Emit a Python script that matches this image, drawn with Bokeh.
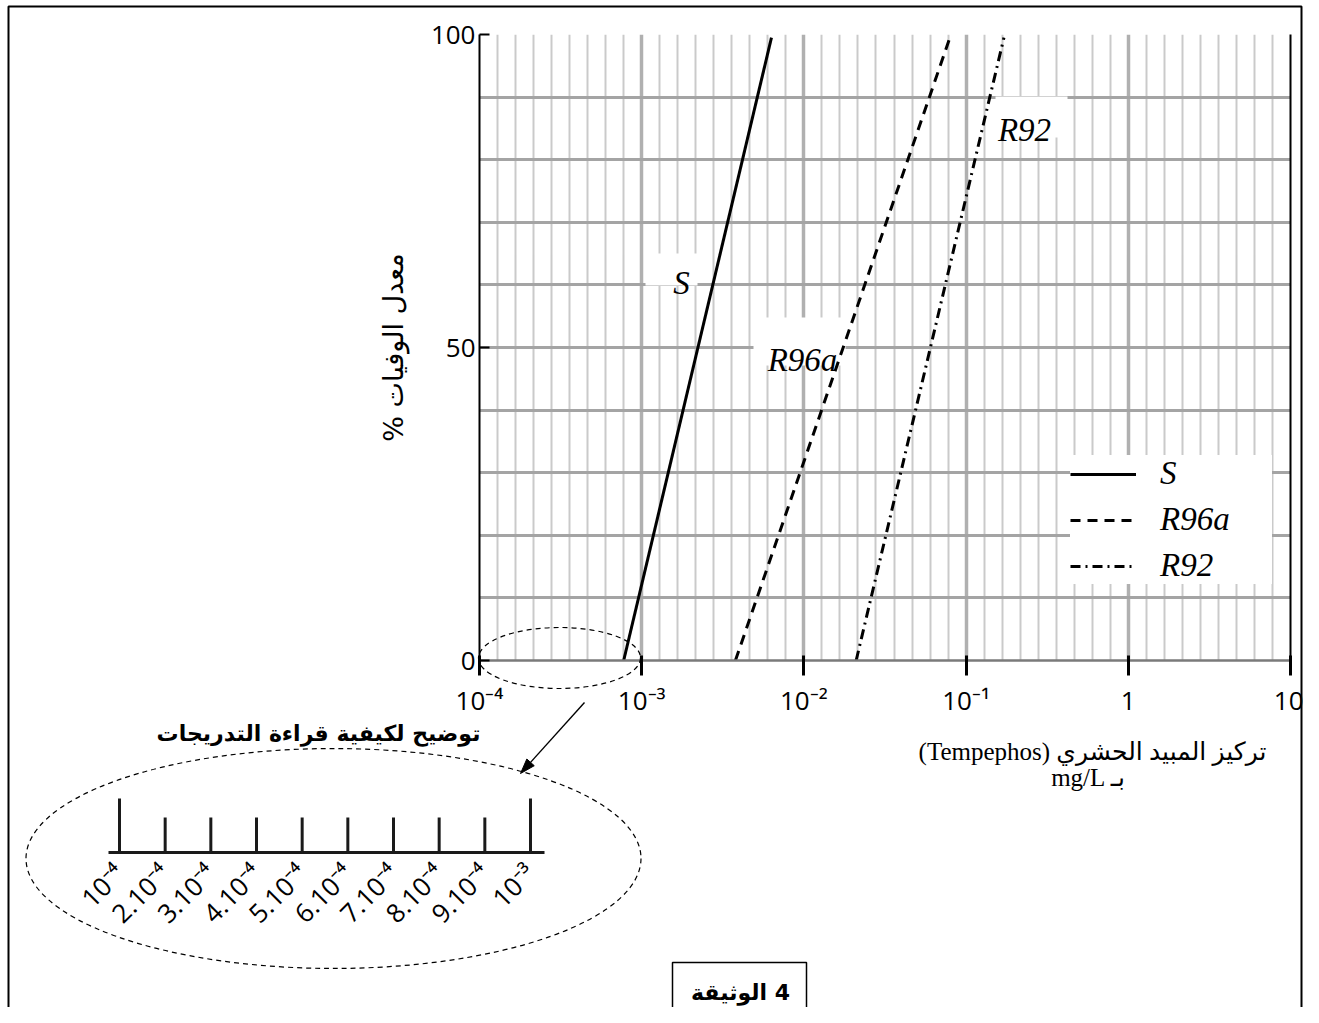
import math
from bokeh.plotting import figure
from bokeh.models import (Range1d, FixedTicker, LinearAxis, Label, Legend, LegendItem,
                          ColumnDataSource)
from bokeh.core.properties import value
from bokeh.embed import file_html
from bokeh.resources import INLINE

# ---------------- data ----------------
decade_exponents = [-4, -3, -2, -1, 0, 1]
decade_labels = ["10⁻⁴", "10⁻³", "10⁻²", "10⁻¹", "1", "10"]
mortality_ticks = [0, 50, 100]
mortality_grid = [0, 10, 20, 30, 40, 50, 60, 70, 80, 90, 100]

series_names = ["S", "R96a", "R92"]
conc_at_low = [9.0e-4, 6.2e-3, 3.9e-2]      # mg/L where mortality = 0 %
conc_at_high = [8.2e-3, 9.1e-2, 3.1e-1]     # mg/L where mortality ~ 100 %
mortality_low = [0, 0, 0]
mortality_high = [99.5, 99.5, 99.5]

inset_values = [1e-4, 2e-4, 3e-4, 4e-4, 5e-4, 6e-4, 7e-4, 8e-4, 9e-4, 1e-3]
inset_labels = ["10⁻⁴", "2.10⁻⁴", "3.10⁻⁴", "4.10⁻⁴", "5.10⁻⁴",
                "6.10⁻⁴", "7.10⁻⁴", "8.10⁻⁴", "9.10⁻⁴", "10⁻³"]

y_title = "% معدل الوفيات"
x_title_1 = "(Tempephos) تركيز المبيد الحشري"
x_title_2 = "mg/L بـ"
inset_title = "توضيح لكيفية قراءة التدريجات"
doc_title = "الوثيقة\u200e 4"


# graduated scale: one unit per decade, linear inside each decade
def graduation(c):
    d = math.floor(math.log10(c) + 1e-9)
    return d + (c / 10 ** d - 1) / 9


minor_positions = [d + (m - 1) / 9 for d in range(-4, 1) for m in range(2, 10)]

# ---------------- layout constants (page pixels) ----------------
W, H = 1303, 1007
FRAME_L, FRAME_R, FRAME_T, FRAME_B = 479, 1290, 34, 660
INSET_X0, INSET_X1 = 119, 530

p = figure(width=W, height=H, x_range=Range1d(-4, 1), y_range=Range1d(0, 100),
           output_backend="svg", toolbar_location=None,
           min_border_left=FRAME_L, min_border_right=W - FRAME_R,
           min_border_top=FRAME_T, min_border_bottom=H - FRAME_B)
p.outline_line_color = None
p.background_fill_color = "white"
p.border_fill_color = "white"

span = inset_values[-1] - inset_values[0]
p.extra_x_ranges = {
    "px": Range1d(FRAME_L, FRAME_R),
    "inset": Range1d(inset_values[0] + (FRAME_L - INSET_X0) * span / (INSET_X1 - INSET_X0),
                     inset_values[0] + (FRAME_R - INSET_X0) * span / (INSET_X1 - INSET_X0)),
}
p.extra_y_ranges = {"px": Range1d(FRAME_B, FRAME_T)}

# ---------------- axes ----------------
xa = p.xaxis[0]
xa.ticker = FixedTicker(ticks=[float(t) for t in decade_exponents])
xa.major_label_overrides = {float(t): l for t, l in zip(decade_exponents, decade_labels)}
xa.minor_tick_line_color = None
xa.major_tick_in = 5
xa.major_tick_out = 15
xa.major_tick_line_color = "black"
xa.major_tick_line_width = 3
xa.axis_line_color = "#7a7a7a"
xa.axis_line_width = 2.5
xa.major_label_text_font = "Open Sans"
xa.major_label_text_font_size = "26px"
xa.major_label_text_color = "black"
xa.major_label_standoff = 6

ya = p.yaxis[0]
ya.ticker = FixedTicker(ticks=mortality_ticks)
ya.minor_tick_line_color = None
ya.major_tick_in = 10
ya.major_tick_out = 0
ya.major_tick_line_color = "black"
ya.major_tick_line_width = 2
ya.axis_line_color = "black"
ya.axis_line_width = 2
ya.major_label_text_font = "Open Sans"
ya.major_label_text_font_size = "26px"
ya.major_label_text_color = "black"
ya.major_label_standoff = 4
ya.axis_label = y_title
ya.axis_label_text_font = "DejaVu Sans"
ya.axis_label_text_font_style = "normal"
ya.axis_label_text_font_size = "27px"
ya.axis_label_text_color = "black"
ya.axis_label_standoff = 19

right = LinearAxis(ticker=FixedTicker(ticks=[]), axis_line_color="black", axis_line_width=2,
                   major_tick_line_color=None, minor_tick_line_color=None,
                   major_tick_out=0, major_tick_in=0, major_label_standoff=0,
                   major_label_text_font_size="0px")
p.add_layout(right, "right")

# ---------------- grid ----------------
p.xgrid.ticker = FixedTicker(ticks=[float(t) for t in decade_exponents], minor_ticks=minor_positions)
p.xgrid.grid_line_color = "#b0b0b0"
p.xgrid.grid_line_width = 3.5
p.xgrid.minor_grid_line_color = "#cacaca"
p.xgrid.minor_grid_line_width = 2
p.ygrid.ticker = FixedTicker(ticks=mortality_grid)
p.ygrid.grid_line_color = "#a4a4a4"
p.ygrid.grid_line_width = 3

# ---------------- white label boxes on the grid ----------------
p.quad(left=[645, 753, 995], right=[697, 845, 1067], top=[253, 317, 96], bottom=[285, 365, 137],
       x_range_name="px", y_range_name="px", fill_color="white", line_color=None)

# ---------------- series lines ----------------
dashes = {"S": "solid", "R96a": "10 7", "R92": "10 5 2 5"}
renderers = []
for name, c0, c1, m0, m1 in zip(series_names, conc_at_low, conc_at_high, mortality_low, mortality_high):
    src = ColumnDataSource(dict(x=[graduation(c0), graduation(c1)], y=[m0, m1]))
    r = p.line("x", "y", source=src, line_color="black", line_width=3, line_dash=dashes[name])
    renderers.append(r)

label_font = "Liberation Serif"
for txt, x, y in [("S", 681, 282), ("R96a", 802, 359), ("R92", 1024, 129)]:
    p.add_layout(Label(x=x, y=y, x_range_name="px", y_range_name="px", text=txt,
                       text_font=label_font, text_font_style="italic", text_font_size="33px",
                       text_align="center", text_baseline="alphabetic", text_color="black"))

legend = Legend(items=[LegendItem(label=n, renderers=[r]) for n, r in zip(series_names, renderers)],
                location=(1070 - FRAME_L, FRAME_B - 584), margin=0, padding=12, spacing=9,
                glyph_width=66, glyph_height=20, label_standoff=24, label_width=112,
                label_text_font=label_font, label_text_font_style="italic",
                label_text_font_size="33px", label_text_color="black",
                background_fill_color="white", background_fill_alpha=1.0,
                border_line_color=None)
p.add_layout(legend)

# ---------------- decorations outside the frame (page pixel coords) ----------------
OV = dict(x_range_name="px", y_range_name="px", level="overlay")

p.ellipse(x=[559], y=[657.5], width=[162], height=[61], fill_color=None, line_color="black",
          line_width=1.2, line_dash="5 4", **OV)
p.ellipse(x=[333], y=[858], width=[615], height=[220], fill_color=None, line_color="black",
          line_width=1.2, line_dash="5 4", **OV)

# arrow from the small ellipse to the inset
ax0, ay0, ax1, ay1 = 584, 702, 520, 773
L = math.hypot(ax1 - ax0, ay1 - ay0)
ux, uy = (ax1 - ax0) / L, (ay1 - ay0) / L
hl, hw = 15, 5
bx, by = ax1 - ux * hl, ay1 - uy * hl
p.segment(x0=[ax0], y0=[ay0], x1=[bx], y1=[by], line_color="black", line_width=1.4, **OV)
p.patch(x=[ax1, bx - uy * hw, bx + uy * hw], y=[ay1, by + ux * hw, by - ux * hw],
        fill_color="black", line_color="black", line_width=1, **OV)

# inset scale
p.segment(x0=[108], x1=[544], y0=[852], y1=[852], line_color="#1a1a1a", line_width=3, **OV)
tick_tops = [798 if v in (inset_values[0], inset_values[-1]) else 817 for v in inset_values]
isrc = ColumnDataSource(dict(x=inset_values, top=tick_tops, base=[852] * len(inset_values),
                             lab_y=[868] * len(inset_values), label=inset_labels))
p.segment(x0="x", x1="x", y0="base", y1="top", source=isrc, x_range_name="inset", y_range_name="px",
          line_color="#1a1a1a", line_width=3, level="overlay")
p.text(x="x", y="lab_y", text="label", source=isrc, x_range_name="inset", y_range_name="px",
       angle=math.pi / 4, text_align="right", text_baseline="middle",
       text_font=value("Open Sans"), text_font_size="26px", text_color="black", level="overlay")

p.text(x=[318], y=[733], text=[inset_title], text_font=value("DejaVu Sans"), text_font_style="bold",
       text_font_size="22px", text_align="center", text_baseline="middle", text_color="black", **OV)

# x-axis title (under the axis, on the right)
p.text(x=[1092, 1088], y=[751, 777], text=[x_title_1, x_title_2],
       text_font=value("Liberation Serif, DejaVu Sans"), text_font_size="25px",
       text_align="center", text_baseline="middle", text_color="black", **OV)

# document box and page frame
p.quad(left=[672], right=[806], top=[962], bottom=[1040], fill_color=None, line_color="black",
       line_width=1.5, **OV)
p.text(x=[740], y=[992], text=[doc_title], text_font=value("DejaVu Sans"), text_font_style="bold",
       text_font_size="22px", text_align="center", text_baseline="middle", text_color="black", **OV)
p.quad(left=[8], right=[1301], top=[6], bottom=[1040], fill_color=None, line_color="black",
       line_width=2, **OV)

open("out.html", "w").write(file_html(p, INLINE))
